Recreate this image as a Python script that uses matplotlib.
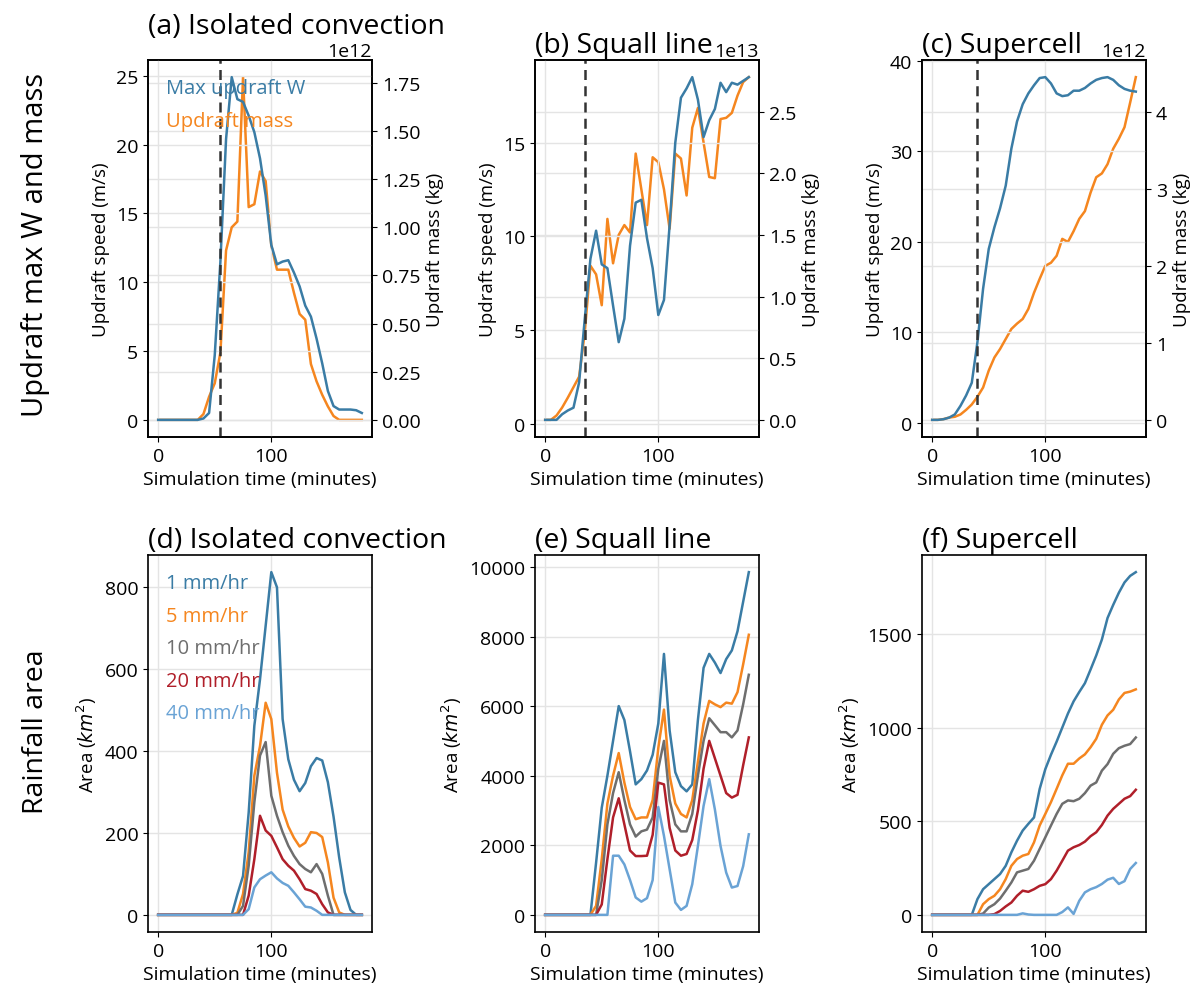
import numpy as np
import matplotlib
matplotlib.use("Agg")
import matplotlib.pyplot as plt
from matplotlib.ticker import MultipleLocator

plt.rcParams["font.family"] = ["Open Sans", "DejaVu Sans"]
plt.rcParams["axes.grid"] = True
plt.rcParams["grid.color"] = "#e4e4e4"
plt.rcParams["grid.linewidth"] = 1.0
plt.rcParams["axes.linewidth"] = 1.2
plt.rcParams["xtick.labelsize"] = 14
plt.rcParams["ytick.labelsize"] = 14
plt.rcParams["axes.labelsize"] = 13.5

BLUE = "#3a7ca5"
ORANGE = "#f5861f"
GRAY = "#6e6e6e"
RED = "#b01f2a"
LBLUE = "#6aa3d5"

time_min = np.arange(0, 185, 5)

# updraft max W (m/s) and updraft mass (kg)
w_iso = [0, 0, 0, 0, 0, 0, 0, 0, 0.1, 0.5, 4.7, 11.5, 20.4, 24.9, 23.3, 23.1, 22.1, 20.9, 19.0,
         16.3, 12.7, 11.3, 11.5, 11.6, 10.7, 9.7, 8.3, 7.5, 5.9, 4.1, 2.1, 1.0, 0.75, 0.75, 0.75, 0.7, 0.5]
mass_iso = [0, 0, 0, 0, 0, 0, 0, 0, 0.03, 0.12, 0.19, 0.35, 0.88, 1.0, 1.03, 1.78, 1.105, 1.12, 1.29,
            1.24, 0.905, 0.78, 0.78, 0.78, 0.66, 0.55, 0.52, 0.29, 0.2, 0.13, 0.07, 0.02, 0, 0, 0, 0, 0]
w_squall = [0.2, 0.2, 0.2, 0.5, 0.7, 0.85, 2.2, 5.6, 8.8, 10.3, 8.5, 8.3, 6.3, 4.35, 5.6, 9.5, 11.8,
            11.95, 9.9, 8.3, 5.8, 6.6, 10.6, 15.0, 17.4, 17.9, 18.5, 17.3, 15.3, 16.2, 16.8, 18.2, 17.7,
            18.2, 18.1, 18.3, 18.5]
mass_squall = [0.0, 0.0, 0.035, 0.1, 0.18, 0.265, 0.35, 0.71, 1.25, 1.18, 0.93, 1.63, 1.27, 1.5, 1.58,
               1.52, 2.16, 1.87, 1.58, 2.13, 2.09, 1.87, 1.55, 2.16, 2.12, 1.82, 2.37, 2.53, 2.25, 1.97,
               1.96, 2.44, 2.45, 2.49, 2.63, 2.74, 2.78]
w_super = [0.3, 0.3, 0.37, 0.55, 0.9, 1.85, 3.0, 4.4, 8.9, 14.8, 19.2, 21.6, 23.7, 26.2, 30.3, 33.3,
           35.2, 36.4, 37.3, 38.1, 38.2, 37.5, 36.4, 36.1, 36.2, 36.7, 36.7, 37.0, 37.5, 37.9, 38.1,
           38.2, 37.9, 37.3, 36.9, 36.7, 36.6]
mass_super = [0, 0, 0.01, 0.03, 0.04, 0.07, 0.13, 0.2, 0.3, 0.42, 0.64, 0.81, 0.92, 1.05, 1.18, 1.25,
              1.31, 1.44, 1.65, 1.83, 2.0, 2.04, 2.13, 2.35, 2.31, 2.45, 2.61, 2.71, 2.95, 3.15, 3.2,
              3.32, 3.52, 3.65, 3.8, 4.12, 4.45]
mass_scale = [1e12, 1e13, 1e12]
trigger_time = [55, 35, 40]

# rainfall area (km2) above each threshold
rain_labels = ["1 mm/hr", "5 mm/hr", "10 mm/hr", "20 mm/hr", "40 mm/hr"]
rain_iso = [
    [0] * 14 + [50, 95, 250, 462, 575, 706, 837, 800, 478, 380, 330, 302, 322, 363, 383, 377, 324,
                240, 140, 55, 12, 0, 0],
    [0] * 14 + [5, 51, 153, 340, 412, 518, 478, 347, 257, 216, 188, 167, 176, 202, 200, 190, 128,
                42, 6, 0, 0, 0, 0],
    [0] * 15 + [22, 120, 275, 389, 422, 291, 242, 202, 169, 144, 124, 112, 104, 124, 100, 47,
                0, 0, 0, 0, 0, 0],
    [0] * 16 + [47, 136, 242, 206, 193, 165, 136, 120, 108, 87, 63, 59, 51, 26, 6,
                0, 0, 0, 0, 0, 0],
    [0] * 16 + [14, 67, 87, 96, 104, 89, 78, 71, 55, 38, 20, 18, 10, 0, 0, 0, 0, 0, 0, 0, 0],
]
rain_squall = [
    [0] * 9 + [1500, 3080, 4000, 5000, 6000, 5600, 4700, 3750, 3900, 4150, 4600, 5500, 7500, 5300,
               4100, 3700, 3550, 3750, 5600, 7100, 7500, 7250, 6950, 7350, 7600, 8150, 9000, 9850],
    [0] * 9 + [260, 1600, 3200, 4000, 4650, 3800, 3100, 2750, 2800, 2800, 3300, 4800, 5900, 4000,
               3200, 2900, 2800, 3300, 4400, 5500, 6150, 6050, 5970, 6100, 6070, 6400, 7200, 8050],
    [0] * 10 + [1000, 2600, 3500, 4100, 3300, 2600, 2250, 2400, 2450, 2800, 4200, 5000, 3300, 2600,
                2400, 2400, 2900, 4000, 5000, 5650, 5450, 5250, 5250, 5100, 5300, 6050, 6900],
    [0] * 10 + [300, 1600, 2800, 3350, 2600, 1850, 1690, 1690, 1700, 2300, 3800, 3750, 2500, 1850,
                1700, 1750, 2150, 3000, 4200, 5000, 4500, 4000, 3500, 3370, 3450, 4300, 5100],
    [0] * 12 + [1700, 1700, 1450, 1000, 500, 380, 480, 1000, 3100, 2270, 1310, 354, 143, 258, 880,
                1980, 3130, 3900, 3030, 1980, 1215, 785, 830, 1400, 2315],
]
rain_super = [
    [0] * 8 + [84, 137, 164, 191, 218, 262, 334, 396, 450, 486, 520, 672, 778, 855, 925, 1000, 1075,
               1140, 1190, 1237, 1310, 1385, 1470, 1585, 1655, 1720, 1775, 1810, 1830],
    [0] * 9 + [57, 84, 102, 137, 191, 262, 298, 316, 325, 387, 477, 539, 602, 673, 745, 807, 807,
               835, 857, 895, 940, 1015, 1065, 1095, 1150, 1185, 1192, 1204],
    [0] * 9 + [7, 39, 57, 87, 129, 173, 227, 236, 245, 289, 352, 414, 477, 539, 593, 611, 607, 620,
               650, 690, 707, 770, 805, 860, 890, 903, 912, 947],
    [0] * 11 + [4, 21, 45, 66, 102, 129, 123, 137, 155, 164, 191, 236, 289, 343, 361, 373, 391, 420,
                441, 480, 530, 566, 593, 620, 634, 668],
    [0] * 16 + [8, 2, 0, 0, 0, 0, 0, 15, 40, 5, 75, 120, 137, 148, 165, 188, 198, 165, 180, 245, 277],
]
rain_colors = [BLUE, ORANGE, GRAY, RED, LBLUE]

top_titles = ["(a) Isolated convection", "(b) Squall line", "(c) Supercell"]
bottom_titles = ["(d) Isolated convection", "(e) Squall line", "(f) Supercell"]
w_series = [w_iso, w_squall, w_super]
mass_series = [mass_iso, mass_squall, mass_super]
rain_series = [rain_iso, rain_squall, rain_super]
w_step = [5, 5, 10]
mass_step = [0.25, 0.5, 1.0]
area_step = [200, 2000, 500]

W, H = 1204, 995
fig = plt.figure(figsize=(W / 100, H / 100), dpi=100)
lefts = [148, 535, 922]
width = 224
height = 377
row_bottoms = [438, 933]


def make_ax(left, bottom):
    return fig.add_axes([left / W, 1 - bottom / H, width / W, height / H])


def finish(ax, title):
    ax.xaxis.set_major_locator(MultipleLocator(100))
    ax.set_xlabel("Simulation time (minutes)", fontsize=14)
    ax.set_title(title, fontsize=20.5, loc="left")


def text_legend(ax, handles):
    ax.legend(handles=handles, loc="upper left", frameon=False, handlelength=0,
              handletextpad=0, labelcolor="linecolor", fontsize=14.5, labelspacing=0.62)


for i in range(3):
    ax = make_ax(lefts[i], row_bottoms[0])
    ax2 = ax.twinx()
    ax2.grid(True)
    l1, = ax.plot(time_min, w_series[i], color=BLUE, lw=1.8, label="Max updraft W")
    mass = np.array(mass_series[i]) * mass_scale[i]
    l2, = ax2.plot(time_min, mass, color=ORANGE, lw=1.8, label="Updraft mass")
    ax.axvline(trigger_time[i], color="#333333", ls="--", lw=1.8, dashes=(4, 2.5))
    ax.set_zorder(ax2.get_zorder() + 1)
    ax.patch.set_visible(False)
    ax.yaxis.set_major_locator(MultipleLocator(w_step[i]))
    ax2.yaxis.set_major_locator(MultipleLocator(mass_step[i] * mass_scale[i]))
    ax2.yaxis.get_offset_text().set_fontsize(14)
    ax.set_ylabel("Updraft speed (m/s)")
    ax2.set_ylabel("Updraft mass (kg)")
    finish(ax, top_titles[i])
    if i == 0:
        text_legend(ax, [l1, l2])

for i in range(3):
    ax = make_ax(lefts[i], row_bottoms[1])
    lines = []
    for series, color, label in zip(rain_series[i], rain_colors, rain_labels):
        ln, = ax.plot(time_min, series, color=color, lw=1.8, label=label)
        lines.append(ln)
    ax.yaxis.set_major_locator(MultipleLocator(area_step[i]))
    ax.set_ylabel("Area ($km^2$)")
    finish(ax, bottom_titles[i])
    if i == 0:
        text_legend(ax, lines)

fig.text(36 / W, 1 - 245 / H, "Updraft max W and mass", rotation=90, ha="center", va="center",
         fontsize=21)
fig.text(36 / W, 1 - 732 / H, "Rainfall area", rotation=90, ha="center", va="center", fontsize=20.5)

fig.savefig("out.png", dpi=100)
